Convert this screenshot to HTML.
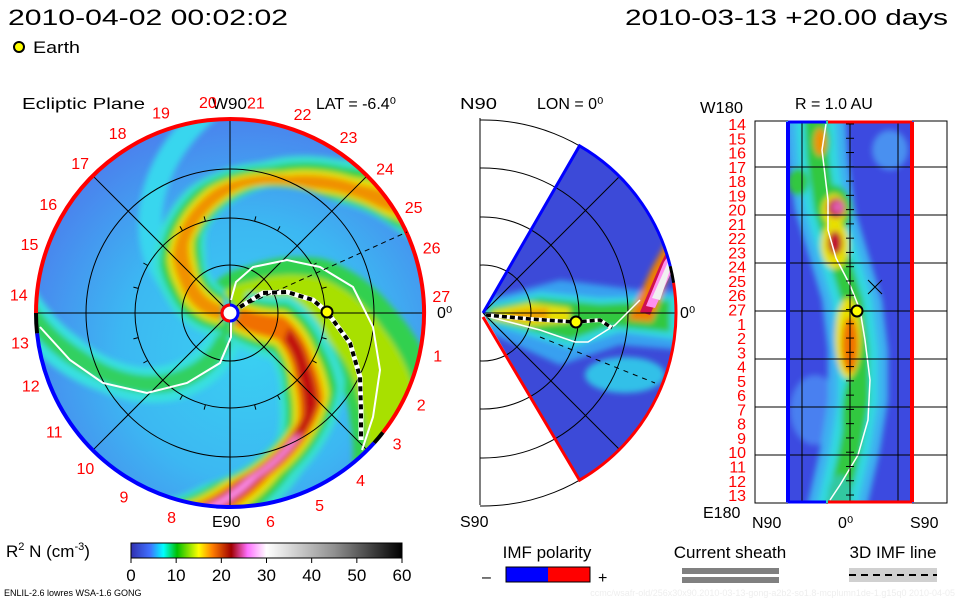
<!DOCTYPE html>
<html><head><meta charset="utf-8"><style>
body{margin:0;background:#fff;}
svg{display:block;font-family:"Liberation Sans",sans-serif;}
</style></head><body>
<svg id="c" width="960" height="600" viewBox="0 0 960 600">
<defs>
<radialGradient id="disc" cx="55%" cy="60%" r="60%">
<stop offset="0" stop-color="#3ad0f2"/><stop offset="0.55" stop-color="#3cb8f2"/><stop offset="1" stop-color="#4a84ee"/>
</radialGradient>
<linearGradient id="cbar" x1="0" x2="1" y1="0" y2="0">
<stop offset="0" stop-color="#3030b0"/><stop offset="0.07" stop-color="#4070ff"/><stop offset="0.12" stop-color="#00ffff"/>
<stop offset="0.17" stop-color="#00c000"/><stop offset="0.25" stop-color="#ffff00"/><stop offset="0.3" stop-color="#ff8000"/>
<stop offset="0.37" stop-color="#a00000"/><stop offset="0.43" stop-color="#ff70ff"/><stop offset="0.5" stop-color="#ffffff"/>
<stop offset="0.75" stop-color="#909090"/><stop offset="1" stop-color="#000000"/>
</linearGradient>
<filter id="blur" x="-20%" y="-20%" width="140%" height="140%"><feGaussianBlur stdDeviation="3"/></filter>
<filter id="blur2" x="-30%" y="-30%" width="160%" height="160%"><feGaussianBlur stdDeviation="3"/></filter>
<clipPath id="dclip"><circle cx="230" cy="313" r="194"/></clipPath>
<clipPath id="wclip"><path d="M483 313 L579 146 A193 193 0 0 1 579 480 Z"/></clipPath>
<clipPath id="mclip"><rect x="480" y="100" width="200" height="420"/></clipPath>
<clipPath id="rclip"><rect x="786" y="121" width="128" height="382"/></clipPath>
</defs>
<text x="8" y="25" font-size="22" textLength="280" lengthAdjust="spacingAndGlyphs">2010-04-02 00:02:02</text>
<text x="625" y="25" font-size="22" textLength="323" lengthAdjust="spacingAndGlyphs">2010-03-13 +20.00 days</text>
<circle cx="19" cy="47" r="5" fill="#ff0" stroke="#000" stroke-width="2"/>
<text x="33" y="53" font-size="17" textLength="47" lengthAdjust="spacingAndGlyphs">Earth</text>
<text x="22" y="109" font-size="16" textLength="123" lengthAdjust="spacingAndGlyphs">Ecliptic Plane</text>
<text x="212" y="109" font-size="16" textLength="35" lengthAdjust="spacingAndGlyphs">W90</text>
<text x="316" y="109" font-size="16">LAT = -6.4⁰</text>
<text x="460" y="109" font-size="16" textLength="37" lengthAdjust="spacingAndGlyphs">N90</text>
<text x="537" y="109" font-size="16">LON = 0⁰</text>
<text x="700" y="113" font-size="16" textLength="43" lengthAdjust="spacingAndGlyphs">W180</text>
<text x="795" y="109" font-size="16">R = 1.0 AU</text>
<g id="left">
<circle cx="230" cy="313" r="194" fill="url(#disc)"/>
<g clip-path="url(#dclip)"><g id="arms" filter="url(#blur)"></g></g>
<g id="grid" fill="none" stroke="#000" stroke-width="1"></g>
</g>
<g id="mid"></g>
<g id="right"></g>
<g id="legend"></g>
</svg>
<script>
const NS='http://www.w3.org/2000/svg';
function mk(t,a,p){const e=document.createElementNS(NS,t);for(const k in a)e.setAttribute(k,a[k]);(p||document.getElementById('c')).appendChild(e);return e;}
const cx=230,cy=313,R=194;
// arm centerlines as [r, angle deg]
const armUpper=[[8,-175],[57,-140],[80,-128],[126,-90],[148,-62],[182,-40],[205,-30]];
const armLower=[[8,25],[52,16],[93,38],[126,50],[166,82],[205,100]];
const armRight=[[8,-40],[31,-20],[96,-2],[150,20],[205,38]];
const armLeft=[[8,95],[50,112],[100,135],[150,160],[205,182]];
const armFaint=[[20,-170],[100,-140],[205,-95]];
const armList=[armFaint,armLeft,armRight,armUpper,armLower];
const armLayers=[
 [['#38d6ee',20,0]],
 [['#38e0e0',32,0],['#30d060',16,0]],
 [['#30d050',70,0],['#a8e000',42,0]],
 [['#38e0d0',50,0],['#30d040',38,0],['#e8e000',25,0],['#f09000',15,0]],
 [['#38e0d0',55,0],['#30d040',42,0],['#e8e000',30,0],['#f07000',20,0],['#c01010',11,60],['#ff90f0',6,140]]];
function interp(pts,r){for(let i=0;i<pts.length-1;i++){if(r<=pts[i+1][0]){const f=(r-pts[i][0])/(pts[i+1][0]-pts[i][0]);return pts[i][1]+f*(pts[i+1][1]-pts[i][1]);}}return pts[pts.length-1][1];}
const arms=document.getElementById('arms');
armList.forEach((pts,i)=>{armLayers[i].forEach(([col,w,rmin])=>{
 let a=[],b=[];const r0=Math.max(pts[0][0],rmin);
 for(let r=r0;r<=pts[pts.length-1][0];r+=3){const ph=interp(pts,r)*Math.PI/180,hw=w*(0.45+0.55*r/194);
  const nx=-Math.sin(ph),ny=Math.cos(ph),x=cx+r*Math.cos(ph),y=cy+r*Math.sin(ph);
  a.push([x+nx*hw,y+ny*hw]);b.push([x-nx*hw,y-ny*hw]);}
 const p=a.concat(b.reverse()).map(q=>q.map(v=>v.toFixed(1)).join(',')).join(' ');
 const e=mk('polygon',{points:p,fill:col},arms);
 
 
});});
// grid
const g=document.getElementById('grid');
[48,95,144].forEach(r=>mk('circle',{cx,cy,r},g));
[45,90,135,180].forEach(d=>{const t=d*Math.PI/180;mk('line',{x1:cx-R*Math.cos(t),y1:cy-R*Math.sin(t),x2:cx+R*Math.cos(t),y2:cy+R*Math.sin(t)},g);});
for(let d=0;d<360;d+=15){const t=d*Math.PI/180;mk('line',{x1:cx+95*Math.cos(t),y1:cy+95*Math.sin(t),x2:cx+100*Math.cos(t),y2:cy+100*Math.sin(t)},g);}
function pl(pts,attrs,name){const e=mk('polyline',Object.assign({points:pts.map(p=>p.join(',')).join(' '),fill:'none'},attrs));return e;}
pl([[231,300],[236,282],[253,267],[287,260],[320,267],[353,287],[373,327],[380,370],[373,417],[362,450]],{stroke:'#fff','stroke-width':2},'current-sheet-line');
pl([[231,322],[231,337],[220,363],[187,383],[147,393],[103,383],[70,360],[40,327]],{stroke:'#fff','stroke-width':2},'current-sheet-line');
const arc=(a1,a2,col,name)=>{const p1=[cx+R*Math.cos(a1*Math.PI/180),cy+R*Math.sin(a1*Math.PI/180)],p2=[cx+R*Math.cos(a2*Math.PI/180),cy+R*Math.sin(a2*Math.PI/180)];
 const large=((a2-a1+360)%360)>180?1:0;const e=mk('path',{d:`M${p1[0]} ${p1[1]} A${R} ${R} 0 ${large} 1 ${p2[0]} ${p2[1]}`,fill:'none',stroke:col,'stroke-width':4});};
arc(180,38,'#f00','polarity-border-positive');
arc(38,42,'#000','polarity-border-neutral');
arc(42,174,'#00f','polarity-border-negative');
arc(174,180,'#000','polarity-border-neutral');
const imfPts=[[240,307],[263,293],[287,292],[313,300],[327,312],[350,343],[360,377],[361,410],[361,440]];
pl(imfPts,{stroke:'#fff','stroke-width':5},'imf-line-bg');
pl(imfPts,{stroke:'#000','stroke-width':4,'stroke-dasharray':'5 4'},'imf-line');
const ed=mk('line',{x1:250,y1:303,x2:407,y2:232,stroke:'#000','stroke-dasharray':'5 4'});

let s=mk('circle',{cx,cy,r:8,fill:'#fff',stroke:'#00f','stroke-width':3});
s=mk('path',{d:`M${cx} 305 A8 8 0 0 0 ${cx} 321`,fill:'none',stroke:'#f00','stroke-width':3});
const earthLat=[327,312];
const e1=mk('circle',{cx:earthLat[0],cy:earthLat[1],r:5.5,fill:'#ff0',stroke:'#000','stroke-width':2});

const clockLabels=['27','1','2','3','4','5','6','8','9','10','11','12','13','14','15','16','17','18','19','20','21','22','23','24','25','26'];
const clockAng=[-4.6,11.5,25.6,38,52,65,79,106,120,133,146,160,172,185,199,211,225,238,251,264,277,290,304,317,330,342];
clockLabels.forEach((l,i)=>{const t=clockAng[i]*Math.PI/180;
 const e=mk('text',{x:cx+212*Math.cos(t),y:cy+212*Math.sin(t)+6,'font-size':16,fill:'#f00','text-anchor':'middle'});e.textContent=l;
 });
let t=mk('text',{x:437,y:318,'font-size':16});t.textContent='0⁰';
t=mk('text',{x:212,y:527,'font-size':16});t.textContent='E90';

// middle panel
const mid=document.getElementById('mid');const mx=483,my=313,MR=193;
const ax=mk('line',{x1:480,y1:118,x2:480,y2:505,stroke:'#000'},mid);
const wedge=mk('path',{d:'M483 313 L579 146 A193 193 0 0 1 579 480 Z',fill:'#3c4ad8'},mid);

const wg=mk('g',{'clip-path':'url(#wclip)'},mid);const wb=mk('g',{filter:'url(#blur)'},wg);
function pol(p,col,name,par){const e=mk('polygon',{points:p.map(q=>q.join(',')).join(' '),fill:col},par);}
pol([[483,300],[560,280],[640,290],[680,290],[680,350],[620,345],[560,365],[483,330]],'#38a0f0','density-band',wb);
pol([[485,305],[540,292],[600,298],[680,296],[680,340],[620,332],[570,348],[485,322]],'#30d8e0','density-band',wb);
pol([[488,308],[540,298],[600,304],[670,300],[670,332],[610,326],[570,340],[488,320]],'#30c840','density-band',wb);
pol([[492,311],[530,303],[570,308],[570,322],[530,326],[492,319]],'#e8e000','density-band',wb);
pol([[510,312],[548,308],[548,320],[510,320]],'#f0a000','density-band',wb);
const cp=mk('ellipse',{cx:625,cy:375,rx:40,ry:18,fill:'#30c0e8'},wb);
pol([[628,320],[652,268],[672,232],[680,245],[652,322]],'#f08000','density-streak',wb);
pol([[640,312],[660,265],[670,245],[676,255],[650,315]],'#d01050','density-streak',wg);
pol([[646,306],[664,262],[672,250],[676,262],[655,308]],'#ff90f0','density-streak',wg);
pol([[652,298],[668,262],[674,258],[660,300]],'#f0f0f0','density-streak',wg);
const mgr=mk('g',{'clip-path':'url(#mclip)',fill:'none',stroke:'#000'},mid);
[48,96,145,193].forEach(r=>{const e=mk('circle',{cx:mx,cy:my,r},mgr);});
[[-45],[0],[45]].forEach(([d])=>{const a=d*Math.PI/180;const e=mk('line',{x1:mx,y1:my,x2:mx+MR*Math.cos(a),y2:my+MR*Math.sin(a)},mgr);});
const pa=(d)=>[mx+MR*Math.cos(d*Math.PI/180),my+MR*Math.sin(d*Math.PI/180)];
let [p1,p2]=[pa(-60),pa(-14)];
let te=mk('path',{d:`M${mx} ${my} L${p1[0]} ${p1[1]} A${MR} ${MR} 0 0 1 ${p2[0]} ${p2[1]}`,fill:'none',stroke:'#00f','stroke-width':3},mid);
[p1,p2]=[pa(-14),pa(-9)];
te=mk('path',{d:`M${p1[0]} ${p1[1]} A${MR} ${MR} 0 0 1 ${p2[0]} ${p2[1]}`,fill:'none',stroke:'#000','stroke-width':3},mid);
[p1,p2]=[pa(-9),pa(60)];
te=mk('path',{d:`M${p1[0]} ${p1[1]} A${MR} ${MR} 0 0 1 ${p2[0]} ${p2[1]} L${mx} ${my+4}`,fill:'none',stroke:'#f00','stroke-width':3},mid);
const md=mk('line',{x1:540,y1:337,x2:655,y2:383,stroke:'#000','stroke-dasharray':'5 5'},mid);
const ws=mk('polyline',{points:'486,316 540,330 575,342 588,342 615,325 628,312 640,300',fill:'none',stroke:'#fff','stroke-width':1.5},mid);
const mi=mk('polyline',{points:'486,315 530,319 575,322 600,320 612,328',fill:'none',stroke:'#fff','stroke-width':4},mid);
const mi2=mk('polyline',{points:'486,315 530,319 575,322 600,320 612,328',fill:'none',stroke:'#000','stroke-width':3.5,'stroke-dasharray':'5 3'},mid);
const me=mk('circle',{cx:576,cy:322,r:5.5,fill:'#ff0',stroke:'#000','stroke-width':2},mid);
t=mk('text',{x:680,y:318,'font-size':16},mid);t.textContent='0⁰';
t=mk('text',{x:460,y:527,'font-size':16},mid);t.textContent='S90';

// right panel
const rp=document.getElementById('right');
const rf=mk('rect',{x:755,y:121,width:192,height:382,fill:'#fff',stroke:'#000'},rp);
const rbg=mk('rect',{x:786,y:121,width:128,height:382,fill:'#3c4ae0'},rp);
const rcl=mk('g',{'clip-path':'url(#rclip)'},rp);const rbl=mk('g',{filter:'url(#blur2)'},rcl);
const ridge=[[815,110],[818,160],[825,210],[840,260],[852,300],[858,350],[858,400],[850,450],[835,515]];
function band(hw,col){const a=ridge.map(p=>[p[0]-hw,p[1]]),b=ridge.map(p=>[p[0]+hw,p[1]]).reverse();pol(a.concat(b),col,'density-ridge',rbl);}
const lp=mk('ellipse',{cx:815,cy:410,rx:25,ry:35,fill:'#4a80f0'},rbl);
const lp2=mk('ellipse',{cx:890,cy:150,rx:18,ry:20,fill:'#4a90f0'},rbl);
band(30,'#3cb0f0');band(20,'#30d8e0');band(11,'#30c840');
const blobs=[[820,142,10,22,'#30c840'],[820,142,6,14,'#f09000'],[798,182,10,14,'#30c840'],[834,210,18,25,'#30c840'],[834,210,12,16,'#e8e000'],[836,208,9,10,'#c02030'],[838,207,6,6,'#e060b0'],[835,245,14,24,'#e8e000'],[835,243,7,12,'#c01030'],[848,338,13,40,'#e8e000'],[850,345,8,28,'#f07000'],[850,420,8,40,'#30c840'],[840,495,12,20,'#30c8a0']];
blobs.forEach(([x,y,rx,ry,c])=>{const e=mk('ellipse',{cx:x,cy:y,rx,ry,fill:c},rbl);});
const rl=mk('polyline',{points:'826,124 822,150 828,200 828,230 836,258 850,285 860,310 865,340 870,380 868,420 858,455 840,485 830,500',fill:'none',stroke:'#fff','stroke-width':1.5},rp);
[802,850,898].forEach(x=>{const e=mk('line',{x1:x,y1:121,x2:x,y2:503,stroke:'#000'},rp);});
[167,215,263,311,359,407,455].forEach(y=>{const e=mk('line',{x1:755,y1:y,x2:947,y2:y,stroke:'#000'},rp);});
for(let y=124;y<503;y+=14.27){const e=mk('line',{x1:846,y1:y,x2:854,y2:y,stroke:'#000'},rp);}
const lb=mk('line',{x1:788,y1:122,x2:788,y2:502,stroke:'#00f','stroke-width':4},rp);
const rb=mk('line',{x1:912,y1:122,x2:912,y2:502,stroke:'#f00','stroke-width':4},rp);
let hb=mk('line',{x1:788,y1:122,x2:826,y2:122,stroke:'#00f','stroke-width':3},rp);
hb=mk('line',{x1:828,y1:122,x2:912,y2:122,stroke:'#f00','stroke-width':3},rp);
hb=mk('line',{x1:788,y1:502,x2:826,y2:502,stroke:'#00f','stroke-width':3},rp);
hb=mk('line',{x1:828,y1:502,x2:912,y2:502,stroke:'#f00','stroke-width':3},rp);
const rx1=mk('path',{d:'M868 280 L882 294 M882 280 L868 294',stroke:'#000',fill:'none'},rp);
const re=mk('circle',{cx:857,cy:311,r:5.5,fill:'#ff0',stroke:'#000','stroke-width':2},rp);
const dayLabels=['14','15','16','17','18','19','20','21','22','23','24','25','26','27','1','2','3','4','5','6','7','8','9','10','11','12','13'];
dayLabels.forEach((l,i)=>{const e=mk('text',{x:746,y:130+i*14.27,'font-size':16,fill:'#f00','text-anchor':'end'},rp);e.textContent=l;});
t=mk('text',{x:703,y:518,'font-size':16},rp);t.textContent='E180';
t=mk('text',{x:752,y:528,'font-size':16},rp);t.textContent='N90';
t=mk('text',{x:838,y:528,'font-size':16},rp);t.textContent='0⁰';
t=mk('text',{x:910,y:528,'font-size':16},rp);t.textContent='S90';

// legend
const lg=document.getElementById('legend');
const cbTicks=[0,10,20,30,40,50,60];
const cbX=v=>131+v/60*271;
t=mk('text',{x:6,y:557,'font-size':17},lg);t.innerHTML='R<tspan dy="-7" font-size="11">2</tspan><tspan dy="7"> N (cm</tspan><tspan dy="-7" font-size="11">-3</tspan><tspan dy="7">)</tspan>';
const cb=mk('rect',{x:131,y:543,width:271,height:15,fill:'url(#cbar)',stroke:'#000'},lg);
cbTicks.forEach(v=>{const l=mk('line',{x1:cbX(v),y1:558,x2:cbX(v),y2:563,stroke:'#000'},lg);
 const e=mk('text',{x:cbX(v),y:581,'font-size':17,'text-anchor':'middle'},lg);e.textContent=v;});
t=mk('text',{x:4,y:596,'font-size':9},lg);t.textContent='ENLIL-2.6 lowres WSA-1.6 GONG';
t=mk('text',{x:955,y:596,'font-size':9,fill:'#eee','text-anchor':'end'},lg);t.textContent='ccmc/wsafr-old/256x30x90.2010-03-13-gong-a2b2-so1.8-mcplumn1de-1.g15q0   2010-04-05';
t=mk('text',{x:547,y:558,'font-size':17,'text-anchor':'middle'},lg);t.textContent='IMF polarity';
let r=mk('rect',{x:506,y:567,width:42,height:15,fill:'#00f'},lg);
r=mk('rect',{x:548,y:567,width:42,height:15,fill:'#f00'},lg);
r=mk('rect',{x:506,y:567,width:84,height:15,fill:'none',stroke:'#000'},lg);
t=mk('text',{x:482,y:582,'font-size':16},lg);t.textContent='–';
t=mk('text',{x:598,y:583,'font-size':16},lg);t.textContent='+';
t=mk('text',{x:730,y:558,'font-size':17,'text-anchor':'middle'},lg);t.textContent='Current sheath';
r=mk('rect',{x:682,y:568,width:97,height:6,fill:'#808080'},lg);
r=mk('rect',{x:682,y:577,width:97,height:6,fill:'#808080'},lg);
t=mk('text',{x:893,y:558,'font-size':17,'text-anchor':'middle'},lg);t.textContent='3D IMF line';
r=mk('rect',{x:849,y:568,width:88,height:14,fill:'#d0d0d0'},lg);
r=mk('line',{x1:849,y1:575,x2:937,y2:575,stroke:'#000','stroke-width':2,'stroke-dasharray':'7 5'},lg);
</script>
</body></html>
